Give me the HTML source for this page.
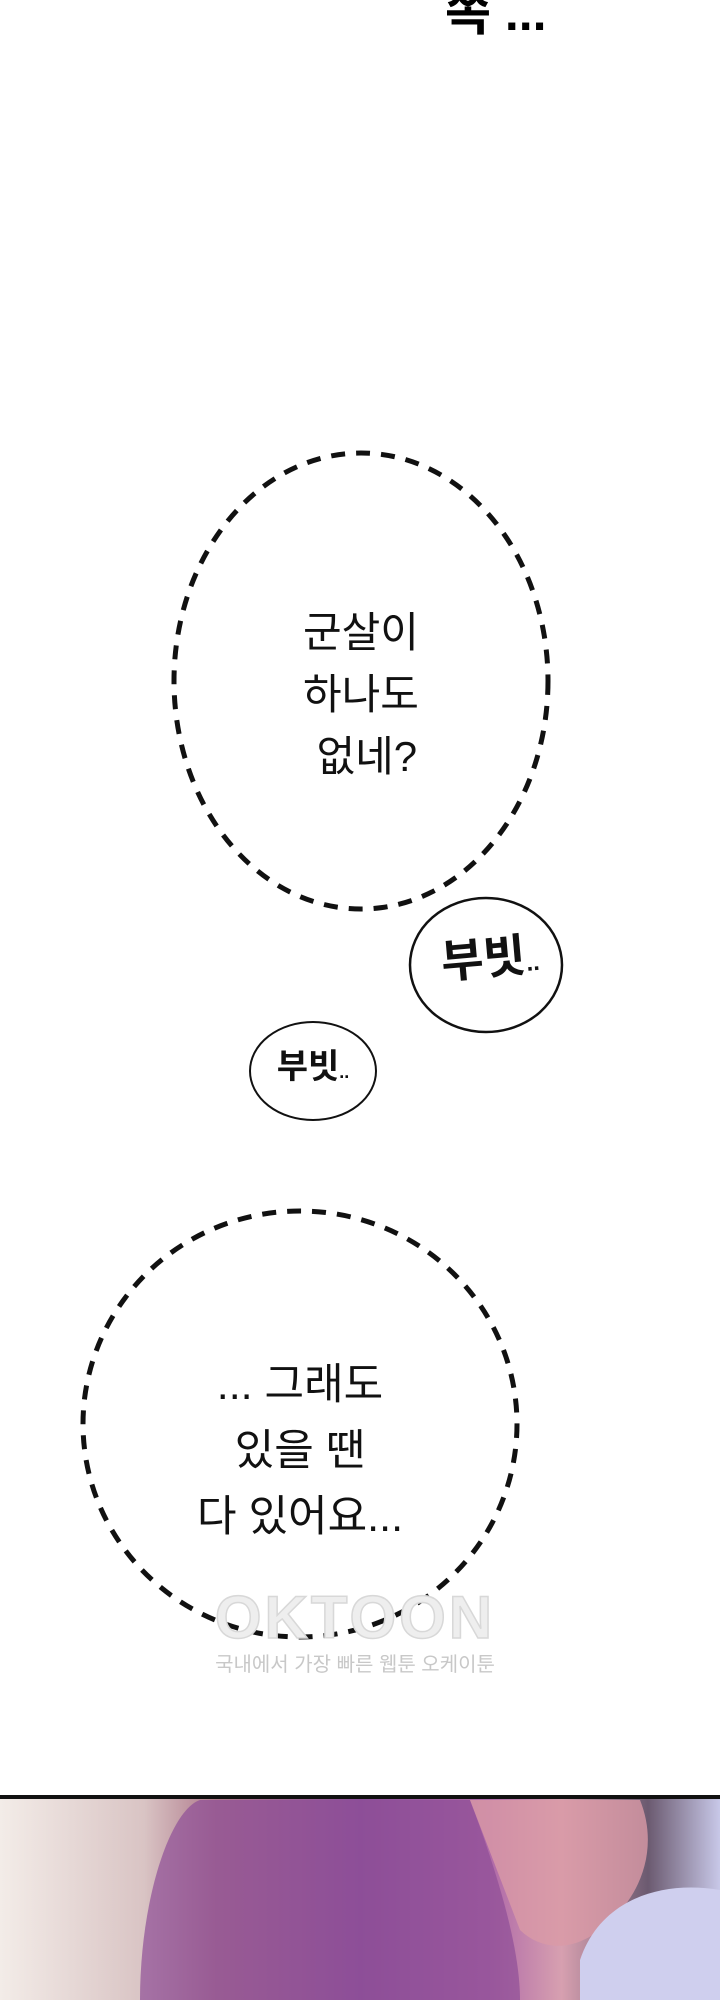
<!DOCTYPE html>
<html><head><meta charset="utf-8"><style>
html,body{margin:0;padding:0;background:#fff}
#c{position:relative;width:720px;height:2000px;overflow:hidden;background:#fff;font-family:"Liberation Sans","Noto Sans CJK KR",sans-serif}
.t{position:absolute;text-align:center;color:#111;font-size:35px;line-height:1}
</style></head><body><div id="c">
<svg width="720" height="2000" style="position:absolute;left:0;top:0">
 <ellipse cx="361" cy="681" rx="187" ry="228" fill="none" stroke="#111" stroke-width="5" stroke-dasharray="14 11"/>
 <ellipse cx="300" cy="1424" rx="217" ry="213" fill="none" stroke="#111" stroke-width="5" stroke-dasharray="14 11"/>
 <ellipse cx="486" cy="965" rx="76" ry="67" fill="none" stroke="#111" stroke-width="2.5"/>
 <ellipse cx="313" cy="1071" rx="63" ry="49" fill="none" stroke="#111" stroke-width="2"/>
 <defs>
  <linearGradient id="g1" x1="0" y1="0" x2="1" y2="0">
   <stop offset="0" stop-color="#f3ece8"/><stop offset="0.2" stop-color="#d9c4c4"/>
   <stop offset="0.3" stop-color="#b07a8c"/><stop offset="0.5" stop-color="#8a4f9a"/>
   <stop offset="0.68" stop-color="#b06aa8"/><stop offset="0.78" stop-color="#d7a0b0"/>
   <stop offset="0.9" stop-color="#6b5a70"/><stop offset="1" stop-color="#c8c8e8"/>
  </linearGradient>
 </defs>
 <rect x="0" y="1798" width="720" height="202" fill="url(#g1)"/>
 <path d="M140 2000 C140 1900 170 1810 200 1800 L470 1800 C500 1880 520 1950 520 2000 Z" fill="#8e4f97" opacity="0.7"/>
 <path d="M470 1800 L640 1800 C660 1850 640 1900 600 1930 C560 1960 530 1940 520 1930 Z" fill="#d99aa6" opacity="0.8"/>
 <path d="M580 1960 C600 1900 660 1880 720 1890 L720 2000 L580 2000Z" fill="#cfcfee"/>
 <rect x="0" y="1795" width="720" height="4" fill="#111"/>
</svg>
<div class="t" style="left:445px;top:-12px;font-size:50px;font-weight:bold;color:#000">쪽 ...</div>
<div class="t" style="left:241px;top:602px;width:240px;font-size:42px;line-height:62px">군살이<br>하나도<br>&nbsp;없네?</div>
<div class="t" style="left:160px;top:1352px;width:280px;font-size:43px;line-height:66px">... 그래도<br>있을 땐<br>다 있어요...</div>
<div class="t" style="left:420px;top:935px;width:140px;font-size:46px;font-weight:bold;transform:rotate(-5deg)">부빗<span style="font-size:24px">..</span></div>
<div class="t" style="left:258px;top:1050px;width:110px;font-size:34px;font-weight:bold">부빗<span style="font-size:18px">..</span></div>
<div class="t" style="left:190px;top:1588px;width:330px;font-size:60px;font-weight:bold;color:#eeeeee;-webkit-text-stroke:1.5px #d8d8d8;letter-spacing:3px">OKTOON</div>
<div class="t" style="left:200px;top:1655px;width:310px;font-size:20px;color:#c8c8c8">국내에서 가장 빠른 웹툰 오케이툰</div>
</div></body></html>
